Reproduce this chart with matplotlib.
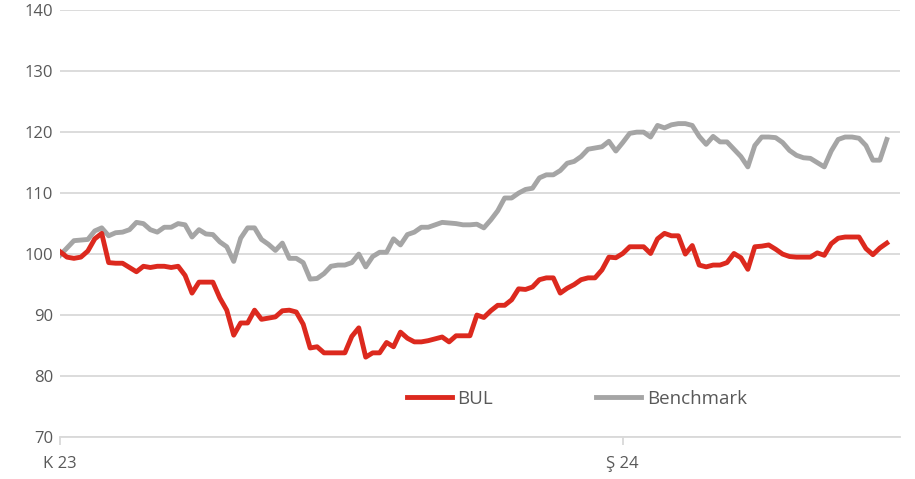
import matplotlib
matplotlib.use("Agg")
import matplotlib.pyplot as plt
import numpy as np

# index values, rebased to 100
bul = [100.4, 99.5, 99.3, 99.5, 100.5, 102.5, 103.4, 98.6, 98.5, 98.5,
       97.8, 97.1, 98.0, 97.8, 98.0, 98.0, 97.8, 98.0, 96.5, 93.6,
       95.4, 95.4, 95.4, 92.8, 90.8, 86.7, 88.7, 88.7, 90.8, 89.3,
       89.5, 89.7, 90.7, 90.8, 90.5, 88.5, 84.6, 84.8, 83.8, 83.8,
       83.8, 83.8, 86.5, 87.9, 83.1, 83.8, 83.8, 85.5, 84.8, 87.2,
       86.2, 85.6, 85.6, 85.8, 86.1, 86.4, 85.6, 86.6, 86.6, 86.6,
       90.0, 89.6, 90.7, 91.6, 91.6, 92.5, 94.3, 94.2, 94.6, 95.8,
       96.1, 96.1, 93.6, 94.4, 95.0, 95.8, 96.1, 96.1, 97.4, 99.5,
       99.4, 100.1, 101.2, 101.2, 101.2, 100.1, 102.5, 103.4, 103.0, 103.0,
       100.0, 101.4, 98.2, 97.9, 98.2, 98.2, 98.6, 100.1, 99.4, 97.5,
       101.2, 101.3, 101.5, 100.8, 100.0, 99.6, 99.5, 99.5, 99.5, 100.2,
       99.8, 101.7, 102.6, 102.8, 102.8, 102.8, 100.9, 99.9, 101.0, 101.8]

benchmark = [99.8, 101.0, 102.2, 102.3, 102.4, 103.8, 104.3, 103.0, 103.5, 103.6,
             104.0, 105.2, 105.0, 104.0, 103.6, 104.4, 104.4, 105.0, 104.8, 102.8,
             104.0, 103.3, 103.2, 102.0, 101.2, 98.8, 102.6, 104.3, 104.3, 102.4,
             101.6, 100.6, 101.8, 99.3, 99.3, 98.6, 95.9, 96.0, 96.8, 98.0,
             98.2, 98.2, 98.6, 100.0, 97.9, 99.6, 100.3, 100.3, 102.5, 101.5,
             103.2, 103.6, 104.4, 104.4, 104.8, 105.2, 105.1, 105.0, 104.8, 104.8,
             104.9, 104.3, 105.6, 107.1, 109.2, 109.2, 110.0, 110.6, 110.8, 112.5,
             113.0, 113.0, 113.7, 114.9, 115.2, 116.0, 117.2, 117.4, 117.6, 118.5,
             116.9, 118.3, 119.8, 120.0, 120.0, 119.2, 121.1, 120.7, 121.2, 121.4,
             121.4, 121.1, 119.3, 118.0, 119.3, 118.4, 118.4, 117.2, 116.0, 114.3,
             117.8, 119.2, 119.2, 119.1, 118.3, 117.0, 116.2, 115.8, 115.7, 115.0,
             114.3, 116.9, 118.8, 119.2, 119.2, 119.0, 117.8, 115.4, 115.4, 118.8]

tick_pos = [0, 81]
tick_labels = ["K 23", "Ş 24"]
y_ticks = [70, 80, 90, 100, 110, 120, 130, 140]

RED = "#dc291e"
GRAY = "#a5a5a5"
GRID = "#d9d9d9"
TEXT = "#595959"

plt.rcParams["font.family"] = ["Open Sans", "DejaVu Sans"]

fig = plt.figure(figsize=(9.15, 4.79), dpi=100)
ax = fig.add_axes([0.0656, 0.0877, 0.918, 0.891])

x = np.arange(len(bul))
ax.plot(x, bul, color=RED, lw=3.5, label="BUL", solid_joinstyle="round", zorder=3)
ax.plot(x, benchmark, color=GRAY, lw=3.5, label="Benchmark", solid_joinstyle="round", zorder=2)

ax.set_ylim(70, 140)
ax.set_xlim(0, 120.9)
ax.set_yticks(y_ticks)
ax.grid(axis="y", color=GRID, lw=1.3)
ax.set_axisbelow(True)

for s in ["top", "right", "left"]:
    ax.spines[s].set_visible(False)
ax.spines["bottom"].set_color(GRID)
ax.spines["bottom"].set_linewidth(1.3)

ax.set_xticks(tick_pos)
ax.set_xticklabels(tick_labels)
ax.tick_params(axis="x", colors=GRID, length=6, width=1.3, pad=8, labelcolor=TEXT, labelsize=12)
ax.tick_params(axis="y", length=0, pad=5, labelcolor=TEXT, labelsize=12)

leg = ax.legend(loc="center", bbox_to_anchor=(0.615, 0.089), ncol=2, frameon=False,
                fontsize=13.5, handlelength=2.4, handletextpad=0.3, columnspacing=5.5,
                labelcolor=TEXT)
for line in leg.get_lines():
    line.set_linewidth(3.5)

fig.savefig("out.png", dpi=100)
